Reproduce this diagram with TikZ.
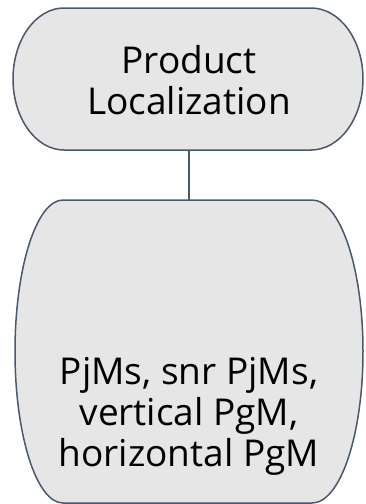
\documentclass[tikz,border=0pt]{standalone}
\usepackage{fontspec}
\setmainfont{Open Sans}
\definecolor{edgecol}{HTML}{4A586B}
\definecolor{boxfill}{HTML}{E6E6E6}
\begin{document}
\begin{tikzpicture}[x=1pt,y=1pt,
    box/.style={draw=edgecol, fill=boxfill, line width=1.5pt},
    lbl/.style={align=center, font=\fontsize{37}{41}\selectfont, text=black}]

        \useasboundingbox (0,0) rectangle (365,-504);

        % Top box: Product Localization
        \draw[box] (64,-8) -- (311,-8)
            arc[start angle=90, end angle=-90, x radius=52, y radius=71]
            -- (64,-150)
            arc[start angle=270, end angle=90, x radius=51, y radius=71] -- cycle;
        \coordinate (prodbot) at (189,-150);
        \node[lbl] (prod) at (189,-80) {Product\\Localization};

        % Bottom box: roles
        \draw[box] (63,-200) -- (312,-200)
            arc[start angle=90, end angle=-90, x radius=51, y radius=151.5]
            -- (63,-503)
            arc[start angle=270, end angle=90, x radius=48, y radius=151.5] -- cycle;
        \coordinate (rolestop) at (189,-200);
        \node[lbl] (roles) at (189,-416) {PjMs, snr PjMs,\\vertical PgM,\\horizontal PgM};

        % Connector
        \draw[edgecol, line width=1.5pt] (prodbot) -- (rolestop);

    \end{tikzpicture}
\end{document}
